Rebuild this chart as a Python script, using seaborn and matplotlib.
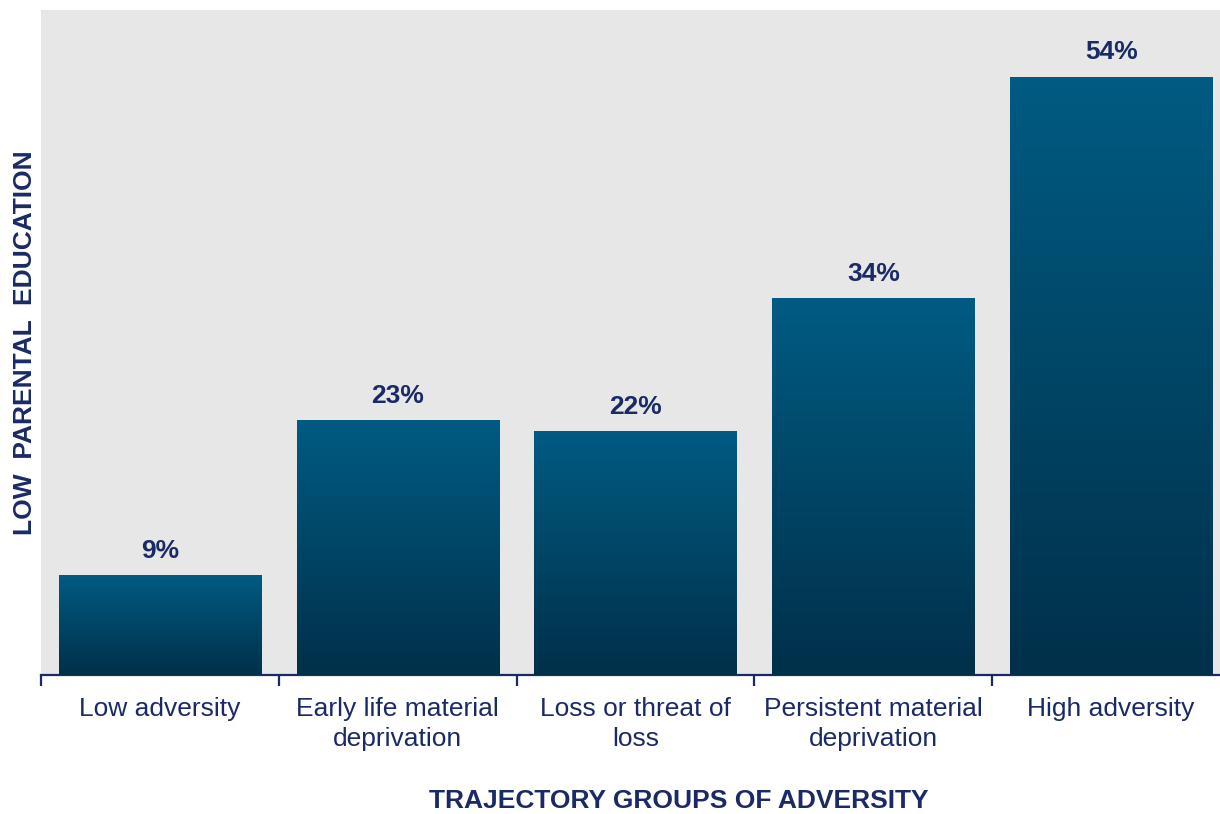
import numpy as np
import pandas as pd
import matplotlib
matplotlib.use("Agg")
import matplotlib.pyplot as plt
from matplotlib.colors import LinearSegmentedColormap
import seaborn as sns

# Share of each adversity trajectory group with low parental education (%)
categories = [
    "Low adversity",
    "Early life material\ndeprivation",
    "Loss or threat of\nloss",
    "Persistent material\ndeprivation",
    "High adversity",
]
values = [9, 23, 22, 34, 54]
value_labels = ["9%", "23%", "22%", "34%", "54%"]

sns.set_theme(style="white")
plt.rcParams["font.family"] = ["Liberation Sans", "DejaVu Sans"]

navy = "#1a2a66"
bar_top = "#005b82"
bar_bottom = "#00304a"
panel_bg = "#e7e7e7"

df = pd.DataFrame({"group": categories, "pct": values})

fig = plt.figure(figsize=(12.2, 8.14), dpi=100)
ax = fig.add_axes([0.0336, 0.1708, 0.9746, 0.8169])
ax.set_facecolor(panel_bg)

sns.barplot(data=df, x="group", y="pct", color=bar_top, width=0.85,
            saturation=1, ax=ax, zorder=2)

# Vertical gradient fill inside each bar
cmap = LinearSegmentedColormap.from_list("bar_grad", [bar_bottom, bar_top])
grad = np.linspace(0, 1, 256).reshape(-1, 1)
for patch in ax.patches:
    x0, y0 = patch.get_x(), patch.get_y()
    w, h = patch.get_width(), patch.get_height()
    patch.set_edgecolor("none")
    im = ax.imshow(grad, cmap=cmap, origin="lower", aspect="auto",
                   extent=(x0, x0 + w, y0, y0 + h), zorder=3,
                   interpolation="bilinear")
    im.set_clip_path(patch)

ax.set_xlim(-0.5, 4.5)
ax.set_ylim(0, 60)

# Value labels above bars
for i, (v, lab) in enumerate(zip(values, value_labels)):
    ax.annotate(lab, xy=(i, v), xytext=(0, 9), textcoords="offset points",
                ha="center", va="bottom", fontsize=19, fontweight="bold",
                color=navy, zorder=4)

# Axes styling
for side in ["top", "right", "left"]:
    ax.spines[side].set_visible(False)
ax.spines["bottom"].set_color(navy)
ax.spines["bottom"].set_linewidth(1.6)
ax.set_yticks([])
ax.set_xticks(range(len(categories)))
ax.set_xticklabels(categories, fontsize=19, color=navy, linespacing=1.3)
ax.tick_params(axis="x", which="major", length=0, pad=16)
ax.set_xticks(np.arange(-0.5, len(categories) + 0.5, 1.0), minor=True)
ax.tick_params(axis="x", which="minor", bottom=True, length=8, width=1.6,
               color=navy, direction="out")

ax.set_xlabel("TRAJECTORY GROUPS OF ADVERSITY", fontsize=19,
              fontweight="bold", color=navy)
ax.xaxis.set_label_coords(0.536, -0.172)
ax.set_ylabel("LOW  PARENTAL  EDUCATION", fontsize=19,
              fontweight="bold", color=navy, labelpad=3)

fig.savefig("out.png", dpi=100, facecolor="white")
